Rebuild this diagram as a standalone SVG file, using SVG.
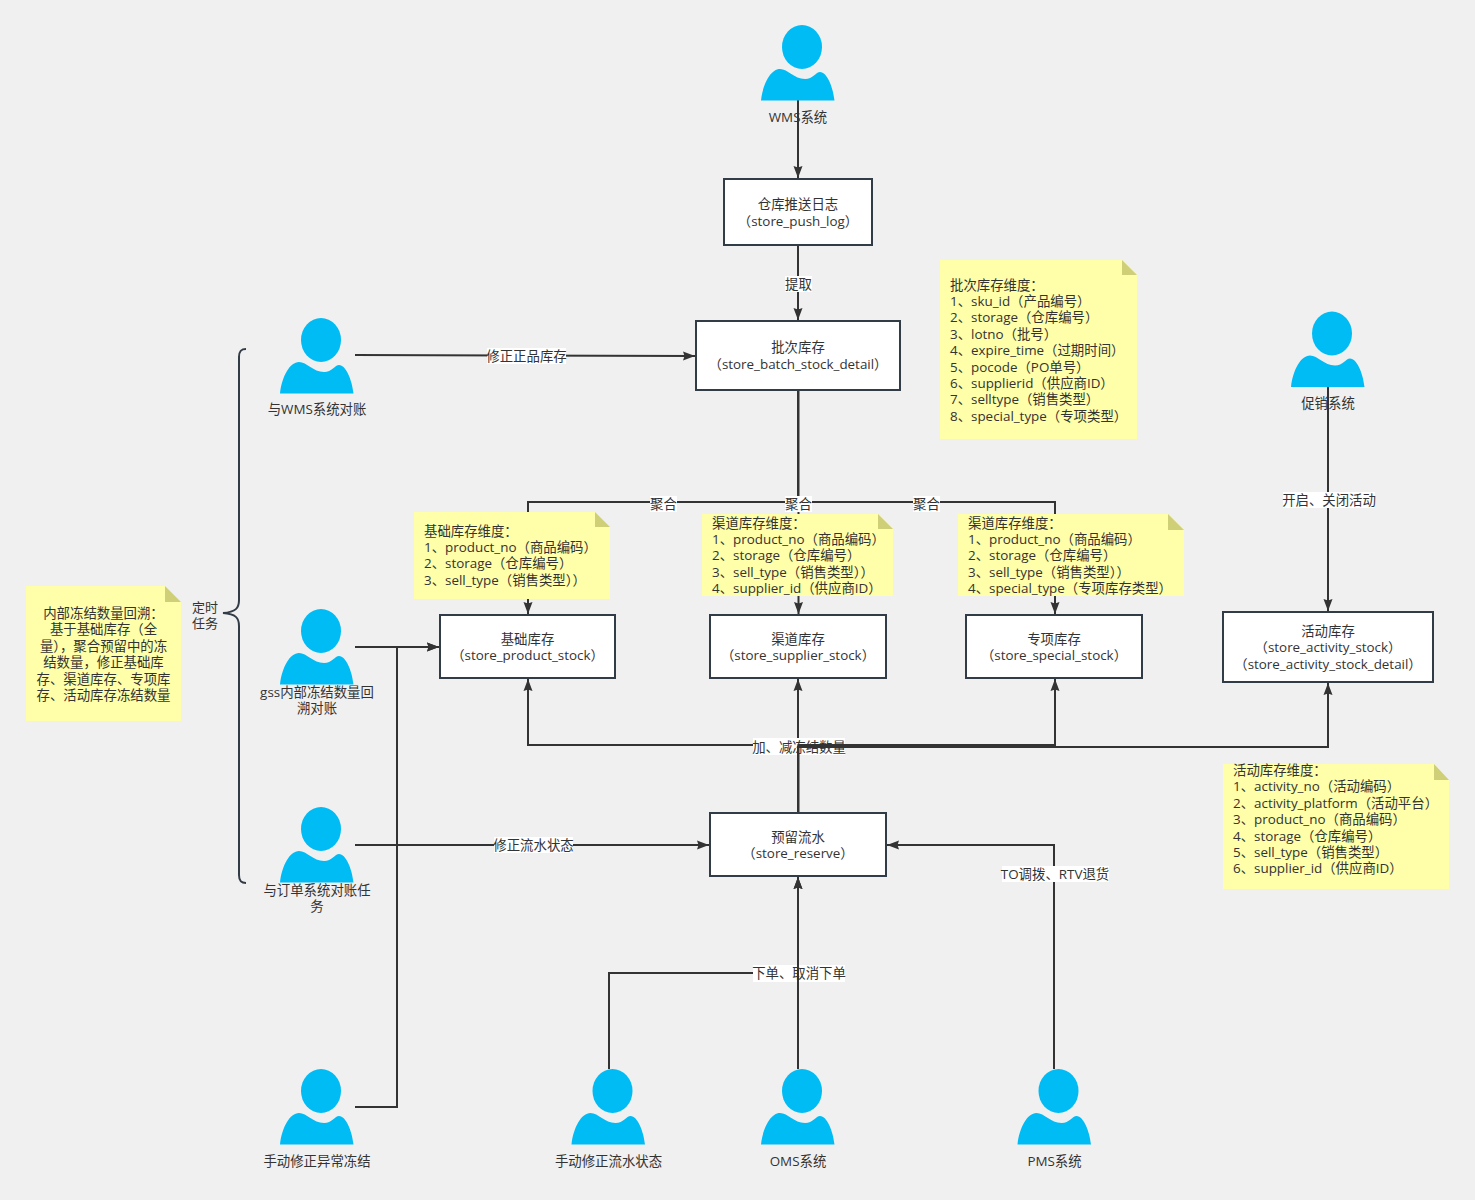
<svg xmlns="http://www.w3.org/2000/svg" xmlns:xlink="http://www.w3.org/1999/xlink" width="1475" height="1200" viewBox="0 0 1475 1200">
<style>
text{font-family:"Open Sans","Noto Sans CJK SC","Noto Sans",sans-serif;font-size:13.4px;fill:#333}
.m{text-anchor:middle}
.box{fill:#fff;stroke:#323c47;stroke-width:2}
.c{fill:none;stroke:#333;stroke-width:2}
.n{fill:#ffffaa}
.f{fill:#cfcf78}
.lb{fill:#fff}
.s{font-size:13px}
</style>
<defs>
<marker id="a" markerUnits="userSpaceOnUse" markerWidth="13" markerHeight="10" refX="12" refY="5" orient="auto"><path d="M0,0.500L12,5L0,9.500L1.500,5Z" fill="#333"/></marker>
<g id="p"><ellipse cx="41" cy="22" rx="20" ry="22" fill="#00bcf5"/><path d="M0,75.500C2,58 10,44 19,44C27,44 33,54 44,54C52,54 55,47 59,47C66,47 72,62 73.500,75.500Z" fill="#00bcf5"/></g>
</defs>
<rect width="1475" height="1200" fill="#f0f0f0"/>
<g id="connectors">
<path class="c" d="M798,100V178" marker-end="url(#a)"/>
<path class="c" d="M798,245V320" marker-end="url(#a)"/>
<path class="c" d="M355,355L695,356" marker-end="url(#a)"/>
<path class="c" d="M798,390V502H528V614" marker-end="url(#a)"/>
<path class="c" d="M798.500,390V614" marker-end="url(#a)"/>
<path class="c" d="M798,390V502H1055V614" marker-end="url(#a)"/>
<path class="c" d="M798,813V745H528V679" marker-end="url(#a)"/>
<path class="c" d="M798,813V679" marker-end="url(#a)"/>
<path class="c" d="M355,647H439" marker-end="url(#a)"/>
<path class="c" d="M355,1107H397V647H439" marker-end="url(#a)"/>
<path class="c" d="M355,845H709" marker-end="url(#a)"/>
<path class="c" d="M1054,1069V845H887" marker-end="url(#a)"/>
<path class="c" d="M609,1069V973H798V877" marker-end="url(#a)"/>
<path class="c" d="M1328,387V611" marker-end="url(#a)"/>
<path id="brace" d="M246,349C241,349 239,351 239,357V600C239,608 236,612 223,613C236,614 239,618 239,626V875C239,881 241,883 246,883" fill="none" stroke="#323c47" stroke-width="2"/>
<rect class="lb" x="785" y="276" width="27" height="16"/><text class="m" x="798.500" y="289">提取</text>
<rect class="lb" x="487" y="348" width="79" height="16"/><text class="m" x="526.500" y="360.500">修正正品库存</text>
<rect class="lb" x="650" y="496" width="27" height="16"/><text class="m" x="663.500" y="508.500">聚合</text>
<rect class="lb" x="785" y="496" width="27" height="16"/><text class="m" x="798.500" y="508.500">聚合</text>
<rect class="lb" x="913" y="496" width="27" height="16"/><text class="m" x="926.500" y="508.500">聚合</text>
<rect class="lb" x="1283" y="492" width="92" height="16"/><text class="m" x="1329" y="505">开启、关闭活动</text>
<rect class="lb" x="753" y="738" width="92" height="17"/><text class="m" x="799" y="751.500">加、减冻结数量</text>
<rect class="lb" x="494" y="837" width="79" height="16"/><text class="m" x="533.500" y="850">修正流水状态</text>
<rect class="lb" x="1002" y="866" width="107" height="16"/><text class="m" x="1055" y="878.500">TO调拨、RTV退货</text>
<rect class="lb" x="753" y="965" width="92" height="17"/><text class="m" x="799" y="978">下单、取消下单</text>
<path class="c" d="M798.500,813V745H1055V679" marker-end="url(#a)"/>
<path class="c" d="M798,813V747H1328V683" marker-end="url(#a)"/>
<path class="c" d="M798,1069V877" marker-end="url(#a)"/>
</g>
<g id="person-wms"><use xlink:href="#p" href="#p" x="761" y="25"/><text class="m" x="798" y="121.500">WMS系统</text></g>
<g id="person-wms-check"><use xlink:href="#p" href="#p" x="280" y="318"/><text class="m" x="317" y="413.500">与WMS系统对账</text></g>
<g id="person-gss"><use xlink:href="#p" href="#p" x="280" y="609"/><text class="m" x="317" y="696.500">gss内部冻结数量回</text><text class="m" x="317" y="712.500">溯对账</text></g>
<g id="person-order"><use xlink:href="#p" href="#p" x="280" y="807"/><text class="m" x="317" y="894.500">与订单系统对账任</text><text class="m" x="317" y="910.500">务</text></g>
<g id="person-manual-freeze"><use xlink:href="#p" href="#p" x="280" y="1069"/><text class="m" x="317" y="1165.500">手动修正异常冻结</text></g>
<g id="person-manual-flow"><use xlink:href="#p" href="#p" x="571.500" y="1069"/><text class="m" x="608.500" y="1165.500">手动修正流水状态</text></g>
<g id="person-oms"><use xlink:href="#p" href="#p" x="761" y="1069"/><text class="m" x="798" y="1165.500">OMS系统</text></g>
<g id="person-pms"><use xlink:href="#p" href="#p" x="1017.500" y="1069"/><text class="m" x="1054.500" y="1165.500">PMS系统</text></g>
<g id="person-promo"><use xlink:href="#p" href="#p" x="1291" y="311.500"/><text class="m" x="1328" y="407.500">促销系统</text></g>
<g id="box-push-log"><rect class="box" x="724" y="179" width="148" height="66"/><text class="m" x="798" y="208.500">仓库推送日志</text><text class="m" x="798" y="225.500">（store_push_log）</text></g>
<g id="box-batch"><rect class="box" x="696" y="321" width="204" height="69"/><text class="m" x="798" y="351.500">批次库存</text><text class="m" x="798" y="368.500">（store_batch_stock_detail）</text></g>
<g id="box-product"><rect class="box" x="440" y="615" width="175" height="63"/><text class="m" x="527.500" y="643.500">基础库存</text><text class="m" x="527.500" y="659.500">（store_product_stock）</text></g>
<g id="box-supplier"><rect class="box" x="710" y="615" width="176" height="63"/><text class="m" x="798" y="643.500">渠道库存</text><text class="m" x="798" y="659.500">（store_supplier_stock）</text></g>
<g id="box-special"><rect class="box" x="966" y="615" width="176" height="63"/><text class="m" x="1054" y="643.500">专项库存</text><text class="m" x="1054" y="659.500">（store_special_stock）</text></g>
<g id="box-activity"><rect class="box" x="1223" y="612" width="210" height="70"/><text class="m" x="1328" y="635.500">活动库存</text><text class="m" x="1328" y="651.500">（store_activity_stock）</text><text class="m" x="1328" y="668.500">（store_activity_stock_detail）</text></g>
<g id="box-reserve"><rect class="box" x="710" y="813" width="176" height="63"/><text class="m" x="798" y="841.500">预留流水</text><text class="m" x="798" y="857.500">（store_reserve）</text></g>
<g id="note-batch"><path class="n" d="M940,260H1122L1137,275V439H940Z"/><path class="f" d="M1122,260L1137,275H1122Z"/>
<text x="950" y="289.500">批次库存维度：</text><text x="950" y="305.500">1、sku_id（产品编号）</text><text x="950" y="321.500">2、storage（仓库编号）</text><text x="950" y="338.500">3、lotno（批号）</text><text x="950" y="354.500">4、expire_time（过期时间）</text><text x="950" y="371.500">5、pocode（PO单号）</text><text x="950" y="387.500">6、supplierid（供应商ID）</text><text x="950" y="403.500">7、selltype（销售类型）</text><text x="950" y="420.500">8、special_type（专项类型）</text></g>
<g id="note-product"><path class="n" d="M414,512H595L610,527V599H414Z"/><path class="f" d="M595,512L610,527H595Z"/>
<text x="424" y="536">基础库存维度：</text><text x="424" y="552">1、product_no（商品编码）</text><text x="424" y="568">2、storage（仓库编号）</text><text x="424" y="585">3、sell_type（销售类型））</text></g>
<g id="note-supplier"><path class="n" d="M702,514H878L893,529V596H702Z"/><path class="f" d="M878,514L893,529H878Z"/>
<text x="712" y="528">渠道库存维度：</text><text x="712" y="544">1、product_no（商品编码）</text><text x="712" y="560">2、storage（仓库编号）</text><text x="712" y="577">3、sell_type（销售类型））</text><text x="712" y="593">4、supplier_id（供应商ID）</text></g>
<g id="note-special"><path class="n" d="M958,514H1168L1184,530V596H958Z"/><path class="f" d="M1168,514L1184,530H1168Z"/>
<text x="968" y="528">渠道库存维度：</text><text x="968" y="544">1、product_no（商品编码）</text><text x="968" y="560">2、storage（仓库编号）</text><text x="968" y="577">3、sell_type（销售类型））</text><text x="968" y="593">4、special_type（专项库存类型）</text></g>
<g id="note-activity"><path class="n" d="M1223,764H1434L1449,780V889H1223Z"/><path class="f" d="M1434,764L1449,780H1434Z"/>
<text x="1233" y="775">活动库存维度：</text><text x="1233" y="791">1、activity_no（活动编码）</text><text x="1233" y="808">2、activity_platform（活动平台）</text><text x="1233" y="824">3、product_no（商品编码）</text><text x="1233" y="841">4、storage（仓库编号）</text><text x="1233" y="857">5、sell_type（销售类型）</text><text x="1233" y="873">6、supplier_id（供应商ID）</text></g>
<g id="note-freeze"><path class="n" d="M26,586H165L181,602V721H26Z"/><path class="f" d="M165,586L181,602H165Z"/>
<text class="m" x="103.500" y="618">内部冻结数量回溯：</text><text class="m" x="103.500" y="634">基于基础库存（全</text><text class="m" x="103.500" y="651">量），聚合预留中的冻</text><text class="m" x="103.500" y="667">结数量，修正基础库</text><text class="m" x="103.500" y="684">存、渠道库存、专项库</text><text class="m" x="103.500" y="700">存、活动库存冻结数量</text></g>
<g id="brace-label"><text class="s" x="192" y="612">定时</text><text class="s" x="192" y="628">任务</text></g>
</svg>
